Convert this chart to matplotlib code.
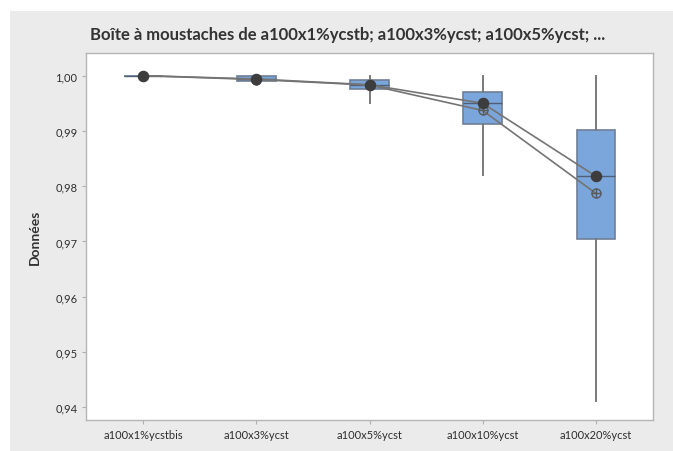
import matplotlib
matplotlib.use("Agg")
import matplotlib.pyplot as plt
from matplotlib.patches import Rectangle
from matplotlib.ticker import FuncFormatter

categories = ["a100x1%ycstbis", "a100x3%ycst", "a100x5%ycst", "a100x10%ycst", "a100x20%ycst"]
q1 = [1.0000, 0.9991, 0.99766, 0.9912, 0.97045]
q3 = [1.0000, 0.9999, 0.99928, 0.9971, 0.9901]
medians = [1.0000, 0.9994, 0.99835, 0.9950, 0.9818]
means = [1.0000, 0.9993, 0.99830, 0.9937, 0.9787]
whis_lo = [1.0000, 0.9990, 0.9951, 0.9820, 0.9411]
whis_hi = [1.0000, 1.0000, 1.0000, 1.0000, 1.0000]
yticks = [0.94, 0.95, 0.96, 0.97, 0.98, 0.99, 1.00]

plt.rcParams['font.family'] = ['Lato', 'DejaVu Sans']

fig = plt.figure(figsize=(6.73, 4.52), dpi=100, facecolor='white')
fig.patches.append(Rectangle((10 / 673, 0), 1, 1 - 12 / 452, transform=fig.transFigure,
                             facecolor='#ebebeb', edgecolor='none', zorder=-5))

ax = fig.add_axes([86.5 / 673, 1 - 421 / 452, (652.5 - 86.5) / 673, (421 - 54) / 452])
ax.set_facecolor('white')

stats = []
for i, name in enumerate(categories):
    stats.append({'label': name, 'q1': q1[i], 'q3': q3[i], 'med': medians[i], 'mean': means[i],
                  'whislo': whis_lo[i], 'whishi': whis_hi[i], 'fliers': []})

pos = list(range(1, len(categories) + 1))
ax.bxp(stats, positions=pos, widths=0.34, patch_artist=True, showmeans=False, showcaps=False,
       boxprops=dict(facecolor='#7aa6db', edgecolor='#6f7f96', linewidth=1.2),
       whiskerprops=dict(color='#7a7a7a', linewidth=1.4),
       medianprops=dict(color='#4f5f75', linewidth=1.0))

# connect lines for medians and means
ax.plot(pos, means, color='#747474', linewidth=1.2, zorder=4)
ax.plot(pos, means, linestyle='none', marker='o', markersize=6.5, markerfacecolor='none',
        markeredgecolor='#5a5a5a', markeredgewidth=1.0, zorder=5)
ax.plot(pos, means, linestyle='none', marker='+', markersize=6.5,
        markeredgecolor='#5a5a5a', markeredgewidth=1.0, zorder=5)
ax.plot(pos, medians, color='#747474', linewidth=1.2, zorder=6)
ax.plot(pos, medians, linestyle='none', marker='o', markersize=7.3, color='#3d3d3d', zorder=7)

ax.set_xlim(0.5, 5.5)
ax.set_ylim(0.9377, 1.0041)
ax.set_yticks(yticks)
ax.yaxis.set_major_formatter(FuncFormatter(lambda v, p: f"{v:.2f}".replace('.', ',')))
ax.set_xticks(pos)
ax.set_xticklabels(categories)

for s in ax.spines.values():
    s.set_color('#b5b5b5')
    s.set_linewidth(1.0)
ax.tick_params(axis='both', colors='#b0b0b0', labelcolor='#2e2e2e', labelsize=8, length=3)

ax.set_ylabel('Données', fontsize=10, fontweight='bold', color='#333333', labelpad=10)
fig.text(348 / 673, 1 - 35 / 452, 'Boîte à moustaches de a100x1%ycstb; a100x3%ycst; a100x5%ycst; ...',
         ha='center', va='center', fontsize=12, fontweight='bold', color='#333333')

fig.savefig('out.png', dpi=100, facecolor=fig.get_facecolor())
